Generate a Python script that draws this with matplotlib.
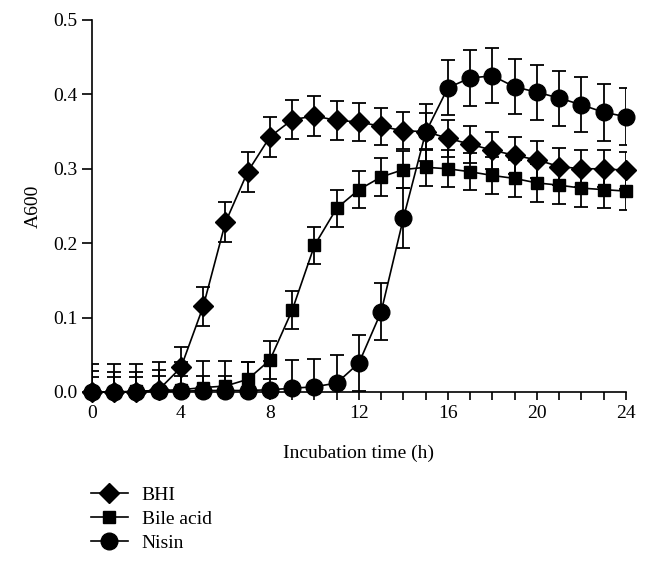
import numpy as np
import matplotlib
matplotlib.use("Agg")
import matplotlib.pyplot as plt
from matplotlib.ticker import MultipleLocator

plt.rcParams['font.family'] = ['Liberation Serif', 'DejaVu Serif']

hours = np.arange(0, 25)

bhi = [0.0, 0.0, 0.0, 0.003, 0.033, 0.115, 0.228, 0.296, 0.343, 0.366, 0.371, 0.365, 0.363,
       0.357, 0.351, 0.350, 0.341, 0.333, 0.325, 0.318, 0.312, 0.303, 0.300, 0.300, 0.298]
bhi_err = [0.028, 0.027, 0.027, 0.027, 0.027, 0.026, 0.027, 0.027, 0.027, 0.026, 0.027, 0.026, 0.026,
           0.025, 0.025, 0.025, 0.025, 0.025, 0.025, 0.025, 0.025, 0.025, 0.025, 0.025, 0.025]

bile = [0.0, 0.0, 0.001, 0.002, 0.003, 0.006, 0.008, 0.017, 0.043, 0.110, 0.197, 0.247, 0.272,
        0.289, 0.299, 0.302, 0.300, 0.296, 0.291, 0.287, 0.281, 0.278, 0.274, 0.272, 0.270]
bile_err = [0.038, 0.038, 0.037, 0.038, 0.037, 0.035, 0.033, 0.023, 0.026, 0.026, 0.025, 0.025, 0.025,
            0.025, 0.025, 0.025, 0.025, 0.025, 0.025, 0.025, 0.025, 0.025, 0.025, 0.025, 0.026]

nisin = [0.0, 0.0, 0.0, 0.001, 0.001, 0.002, 0.002, 0.002, 0.003, 0.005, 0.007, 0.012, 0.039,
         0.108, 0.234, 0.349, 0.409, 0.422, 0.425, 0.410, 0.403, 0.395, 0.386, 0.376, 0.370]
nisin_err = [0.02, 0.02, 0.02, 0.02, 0.02, 0.02, 0.02, 0.038, 0.038, 0.038, 0.038, 0.038, 0.038,
             0.038, 0.040, 0.038, 0.037, 0.038, 0.037, 0.037, 0.037, 0.037, 0.037, 0.038, 0.038]

series = [
    ("BHI", bhi, bhi_err, "D", 10),
    ("Bile acid", bile, bile_err, "s", 8.5),
    ("Nisin", nisin, nisin_err, "o", 12),
]

fig = plt.figure(figsize=(6.5, 5.71), dpi=100)
ax = fig.add_axes([0.1415, 0.3135, 0.8215, 0.6515])

handles = []
for name, vals, err, mk, ms in series:
    # error bars are clipped at the axes, the markers are not
    ax.errorbar(hours, vals, yerr=err, fmt="none", ecolor="black",
                elinewidth=1.3, capsize=5, capthick=1.3)
    ln, = ax.plot(hours, vals, color="black", marker=mk, markersize=ms,
                  linewidth=1.2, label=name, clip_on=False, zorder=3)
    handles.append(ln)

ax.set_xlim(0, 24)
ax.set_ylim(0, 0.5)
ax.xaxis.set_major_locator(MultipleLocator(4))
ax.xaxis.set_minor_locator(MultipleLocator(1))
ax.yaxis.set_major_locator(MultipleLocator(0.1))
ax.yaxis.set_major_formatter(matplotlib.ticker.FormatStrFormatter("%.1f"))
ax.spines["top"].set_visible(False)
ax.spines["right"].set_visible(False)
for s in ("left", "bottom"):
    ax.spines[s].set_linewidth(1.2)
ax.tick_params(axis="both", which="both", direction="out", width=1.2, labelsize=14)
ax.tick_params(axis="x", which="both", length=6)
ax.tick_params(axis="y", length=7)
ax.set_xlabel("Incubation time (h)", fontsize=14, labelpad=16)
ax.set_ylabel("A600", fontsize=14, labelpad=8)

fig.legend(handles, [h.get_label() for h in handles], loc="upper left",
           bbox_to_anchor=(0.125, 0.165), frameon=False, fontsize=14,
           handlelength=1.9, labelspacing=0.32, handletextpad=0.7, borderpad=0)

fig.savefig("out.png", dpi=100)
